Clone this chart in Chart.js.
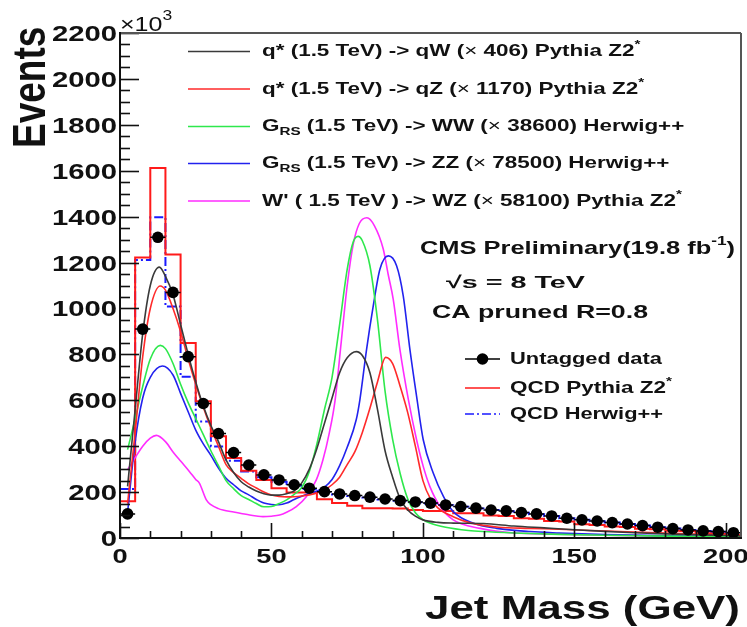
<!DOCTYPE html>
<html>
<head>
<meta charset="utf-8">
<title>Jet Mass</title>
<script src="https://cdn.jsdelivr.net/npm/chart.js@4.4.1/dist/chart.umd.min.js"></script>
<style>
  html, body { margin: 0; padding: 0; background: #fff; }
  #chart { display: block; }
</style>
</head>
<body>
<canvas id="chart" width="747" height="627"></canvas>
<script>
// 5 GeV bins
const binEdges = [0, 5, 10, 15, 20, 25, 30, 35, 40, 45, 50, 55, 60, 65, 70, 75, 80, 85, 90, 95, 100,
  105, 110, 115, 120, 125, 130, 135, 140, 145, 150, 155, 160, 165, 170, 175, 180, 185, 190, 195, 200, 205];

// events per bin, in thousands
const dataEvents = [105, 910, 1310, 1070, 790, 586, 455, 372, 318, 275, 253, 232, 217, 202, 192, 185, 178, 170,
  163, 157, 152, 144, 137, 130, 122, 118, 111, 105, 96, 86, 79, 74, 67, 61, 54, 47, 41, 35, 31, 28, 23];
const qcdPythia = [160, 1222, 1612, 1235, 850, 596, 443, 348, 293, 253, 217, 198, 198, 169, 152, 140, 130, 130,
  128, 122, 118, 118, 108, 108, 98, 96, 86, 84, 74, 72, 60, 57, 50, 48, 40, 38, 32, 30, 21, 18, 13];
const qcdHerwig = [213, 1211, 1397, 1008, 702, 508, 399, 337, 290, 265, 245, 228, 214, 200, 190, 183, 176, 168,
  162, 156, 150, 143, 136, 129, 122, 117, 110, 104, 96, 86, 79, 73, 67, 61, 54, 47, 41, 35, 31, 27, 23];

// scaled signal shapes: [jet mass, events]
const sigQW = [[2.5, 225], [5, 560], [7.5, 890], [10, 1100], [13, 1180], [15, 1140], [17.5, 1060], [20, 930],
  [22.5, 800], [25, 680], [27.5, 575], [30, 490], [32.5, 420], [35, 340], [37.5, 285], [40, 245], [42.5, 222],
  [45, 205], [47.5, 193], [50, 187], [52.5, 187], [55, 193], [57.5, 205], [60, 240], [62.5, 300], [65, 390],
  [67.5, 500], [70, 610], [72.5, 720], [75, 785], [78, 812], [80, 795], [82.5, 720], [85, 560], [87.5, 380],
  [90, 265], [92.5, 170], [95, 122], [97.5, 95], [100, 79], [105, 68], [110, 65], [120, 63], [130, 52],
  [140, 44], [150, 36], [160, 29], [170, 23], [180, 18], [190, 14], [200, 11], [205, 9]];
const sigQZ = [[2.5, 150], [5, 460], [7.5, 790], [10, 1000], [13.3, 1098], [15, 1080], [17.5, 1000], [20, 900],
  [22.5, 780], [25, 670], [27.5, 570], [30, 480], [32.5, 400], [35, 320], [37.5, 285], [40, 260], [42.5, 236],
  [45, 218], [47.5, 200], [50, 187], [52.5, 181], [55, 179], [57.5, 180], [60, 183], [62.5, 188], [65, 196],
  [67.5, 210], [70, 232], [72.5, 265], [75, 320], [77.5, 375], [80, 460], [82.5, 565], [85, 680], [87.7, 787],
  [90, 760], [92.5, 660], [95, 545], [97.5, 400], [100, 250], [102.5, 170], [105, 130], [110, 93], [115, 68],
  [120, 55], [125, 47], [135, 42], [145, 38], [155, 33], [165, 28], [175, 24], [185, 19], [195, 15], [205, 11]];
const sigWW = [[2.5, 385], [5, 520], [7.5, 660], [10, 780], [13.3, 839], [15, 825], [17.5, 760], [20, 670],
  [22.5, 590], [25, 520], [27.5, 450], [30, 380], [32.5, 315], [35, 250], [37.5, 215], [40, 185], [42.5, 168],
  [45, 150], [47.5, 136], [50, 137], [52.5, 150], [55, 166], [57.5, 190], [60, 220], [62.5, 290], [65, 410],
  [67.5, 560], [70, 700], [72.5, 930], [75, 1170], [77, 1290], [78.6, 1314], [80, 1295], [82.5, 1186],
  [85, 950], [87.5, 640], [90, 430], [92.5, 280], [95, 170], [97.5, 110], [100, 80], [102.5, 64], [107.5, 47],
  [115, 33], [120, 28], [130, 22], [145, 16], [160, 12], [180, 8], [205, 5]];
const sigZZ = [[2.5, 110], [5, 420], [7.5, 610], [10, 700], [14, 749], [17.5, 710], [20, 630], [22.5, 550],
  [25, 470], [27.5, 410], [30, 360], [32.5, 305], [35, 260], [37.5, 232], [40, 205], [42.5, 188], [45, 168],
  [47.5, 152], [50, 146], [52.5, 145], [55, 152], [57.5, 168], [60, 182], [62.5, 195], [65, 205], [67.5, 222],
  [70, 255], [72.5, 315], [75, 395], [78, 516], [79.2, 603], [81.4, 822], [83.6, 1011], [85.8, 1171],
  [88.6, 1229], [91.3, 1186], [93.5, 1055], [95.7, 822], [97.9, 618], [100.1, 428], [103.4, 283], [106.8, 180],
  [110, 115], [116.7, 64], [124.4, 42], [135.4, 28], [145, 22], [160, 15], [180, 10], [205, 6]];
const sigWZ = [[2.5, 297], [5, 350], [7.5, 400], [10, 435], [12, 447], [15, 420], [17.5, 375], [20, 335],
  [22.9, 290], [25, 255], [26.2, 239], [28.5, 166], [30, 145], [32.5, 128], [34, 122], [37.5, 113], [40, 107],
  [42.8, 100], [45, 96], [47.2, 93], [50, 95], [52.7, 100], [55, 112], [58.2, 137], [61.5, 180], [64.8, 253],
  [67, 341], [69.1, 458], [71, 600], [73, 850], [75, 1100], [77, 1280], [79, 1370], [81.5, 1395], [84, 1360],
  [86.9, 1259], [88.5, 1150], [90.2, 1040], [92.4, 822], [95.2, 603], [97.9, 428], [100.1, 312], [102.3, 224],
  [105.7, 137], [110, 79], [118.9, 42], [130, 22], [145, 17], [160, 12], [180, 8], [205, 5]];

const signalLabels = [
  'q* (1.5 TeV) -> qW (× 406) Pythia Z2^{*}',
  'q* (1.5 TeV) -> qZ (× 1170) Pythia Z2^{*}',
  'G_{RS} (1.5 TeV) -> WW (× 38600) Herwig++',
  'G_{RS} (1.5 TeV) -> ZZ (× 78500) Herwig++',
  "W' ( 1.5 TeV ) -> WZ (× 58100) Pythia Z2^{*}"
];
const signalColors = ['#3a3a3a', '#ff2a2a', '#2ee84c', '#2222ee', '#ff2cff'];

const xTickValues = [0, 50, 100, 150, 200];
const yTickValues = [0, 200, 400, 600, 800, 1000, 1200, 1400, 1600, 1800, 2000, 2200];

const FONT = "'Liberation Sans', Arial, Helvetica, sans-serif";
const SX = 1.32; // glyphs are drawn a bit wide
const INK = '#111';

const toXY = arr => arr.map(p => ({ x: p[0], y: p[1] }));
const stepPoints = vals => binEdges.map((e, i) => ({ x: e, y: vals[Math.min(i, vals.length - 1)] }));
const binCenters = dataEvents.map((v, i) => ({ x: (binEdges[i] + binEdges[i + 1]) / 2, y: v }));
// horizontal bars across each bin, broken by nulls
const xErrBars = dataEvents.flatMap((v, i) => [
  { x: binEdges[i], y: v }, { x: binEdges[i + 1], y: v }, { x: binEdges[i + 1], y: null }
]);

const datasets = [
  { label: 'Untagged data', data: binCenters, showLine: false, pointRadius: 5.8, pointBackgroundColor: '#000',
    pointBorderColor: '#000', pointBorderWidth: 0, borderColor: '#000' },
  { label: 'xerr', data: xErrBars, borderColor: '#000', borderWidth: 1.5, pointRadius: 0, spanGaps: false },
];
const signals = [sigQW, sigQZ, sigWW, sigZZ, sigWZ];
signals.forEach((s, i) => datasets.push({
  label: signalLabels[i], data: toXY(s), borderColor: signalColors[i], borderWidth: 1.6,
  pointRadius: 0, cubicInterpolationMode: 'monotone'
}));
datasets.push({ label: 'QCD Pythia Z2^{*}', data: stepPoints(qcdPythia), stepped: 'before',
  borderColor: '#ff1a1a', borderWidth: 2, pointRadius: 0 });
datasets.push({ label: 'QCD Herwig++', data: stepPoints(qcdHerwig), stepped: 'before',
  borderColor: '#1a1aff', borderWidth: 2, borderDash: [9, 3, 2, 3], pointRadius: 0 });

// split "_{..}", "^{..}" and × into separately styled pieces
function richParts(str, size, weight) {
  return str.split(/(_\{[^}]*\}|\^\{[^}]*\}|×)/).filter(s => s.length).map(p => {
    if (p.startsWith('_{')) return { t: p.slice(2, -1), fs: size * 0.68, dy: size * 0.32, w: weight };
    if (p.startsWith('^{')) return { t: p.slice(2, -1), fs: size * 0.68, dy: -size * 0.38, w: weight };
    if (p === '×') return { t: p, fs: size, dy: 0, w: 'normal' };
    return { t: p, fs: size, dy: 0, w: weight };
  });
}

// draws a label, stretched horizontally by sx (or to a given width)
function drawRich(ctx, x, y, str, size, weight, opts = {}) {
  const parts = richParts(str, size, weight);
  let natural = 0;
  for (const p of parts) {
    ctx.font = `${p.w} ${p.fs}px ${FONT}`;
    p.width = ctx.measureText(p.t).width;
    natural += p.width;
  }
  const sx = opts.width ? opts.width / natural : (opts.sx || SX);
  let x0 = x;
  if (opts.align === 'right') x0 = x - natural * sx;
  if (opts.align === 'center') x0 = x - natural * sx / 2;
  ctx.save();
  ctx.translate(x0, y);
  ctx.scale(sx, 1);
  ctx.textAlign = 'left';
  ctx.textBaseline = opts.baseline || 'middle';
  let cx = 0;
  for (const p of parts) {
    ctx.font = `${p.w} ${p.fs}px ${FONT}`;
    ctx.fillText(p.t, cx, p.dy);
    cx += p.width;
  }
  ctx.restore();
  return x0 + natural * sx;
}

function seg(ctx, x1, y1, x2, y2) {
  ctx.beginPath(); ctx.moveTo(x1, y1); ctx.lineTo(x2, y2); ctx.stroke();
}

const decorations = {
  id: 'decorations',
  afterDraw(chart) {
    const { ctx, chartArea: a, scales: { x, y } } = chart;
    ctx.save();
    // inward ticks
    ctx.strokeStyle = INK;
    ctx.lineWidth = 1.6;
    for (let v = 0; v <= 2200; v += 50) {
      const py = Math.round(y.getPixelForValue(v)) + 0.5;
      seg(ctx, a.left, py, a.left + (v % 200 === 0 ? 19 : 10), py);
    }
    for (let v = 0; v <= 205; v += 10) {
      const px = Math.round(x.getPixelForValue(v)) + 0.5;
      seg(ctx, px, a.bottom, px, a.bottom - (v % 50 === 0 ? 15 : 7));
    }
    // frame
    ctx.lineWidth = 2;
    ctx.strokeStyle = '#555';
    seg(ctx, a.left, a.top, a.right, a.top);
    seg(ctx, a.right, a.top, a.right, a.bottom);
    ctx.strokeStyle = INK;
    seg(ctx, a.left, a.top - 1, a.left, a.bottom + 1);
    seg(ctx, a.left - 1, a.bottom, a.right + 1, a.bottom);

    ctx.fillStyle = INK;
    // tick labels
    yTickValues.forEach(v => drawRich(ctx, a.left - 3, y.getPixelForValue(v) + 8, String(v), 22, 'bold',
      { align: 'right', baseline: 'alphabetic', sx: 1.33 }));
    xTickValues.forEach(v => drawRich(ctx, x.getPixelForValue(v), 563, String(v), 21, 'bold',
      { align: 'center', baseline: 'alphabetic', sx: 1.3 }));

    // axis titles
    drawRich(ctx, 740, 619, 'Jet Mass (GeV)', 33, 'bold', { align: 'right', baseline: 'alphabetic', width: 315 });
    ctx.save();
    ctx.translate(45, 148);
    ctx.rotate(-Math.PI / 2);
    ctx.scale(1, 1.25);
    ctx.font = `bold 37px ${FONT}`;
    ctx.textBaseline = 'alphabetic';
    ctx.fillText('Events', 0, 0);
    ctx.restore();

    // exponent
    const ex = drawRich(ctx, 120, 31, '×10', 20, 'normal', { baseline: 'alphabetic', sx: 1.25 });
    drawRich(ctx, ex, 20, '3', 14, 'normal', { baseline: 'alphabetic', sx: 1.25 });

    // signal legend
    const ds = chart.data.datasets;
    const rows = [51.5, 89, 126.5, 163.5, 201];
    for (let i = 0; i < 5; i++) {
      const d = ds[2 + i];
      ctx.strokeStyle = d.borderColor;
      ctx.lineWidth = 1.5;
      seg(ctx, 188, rows[i], 250, rows[i]);
      drawRich(ctx, 262, rows[i], d.label, 17, 'bold');
    }

    // experiment label
    drawRich(ctx, 420, 249, 'CMS Preliminary(19.8 fb^{-1})', 19, 'bold', { width: 315 });
    drawRich(ctx, 446, 283, '√s = 8 TeV', 17, 'bold', { width: 139 });
    drawRich(ctx, 432, 313, 'CA pruned R=0.8', 18, 'bold', { width: 216 });

    // data / background legend
    const rows2 = [359, 388, 414];
    ctx.lineWidth = 1.5;
    ctx.strokeStyle = '#000';
    seg(ctx, 465, rows2[0], 500, rows2[0]);
    ctx.beginPath(); ctx.arc(482.5, rows2[0], 5.8, 0, Math.PI * 2); ctx.fillStyle = '#000'; ctx.fill();
    ctx.strokeStyle = ds[7].borderColor;
    seg(ctx, 465, rows2[1], 500, rows2[1]);
    ctx.strokeStyle = ds[8].borderColor;
    ctx.setLineDash(ds[8].borderDash);
    seg(ctx, 465, rows2[2], 500, rows2[2]);
    ctx.setLineDash([]);
    ctx.fillStyle = INK;
    drawRich(ctx, 510, rows2[0], ds[0].label, 17, 'bold', { width: 152 });
    drawRich(ctx, 510, rows2[1], ds[7].label, 17, 'bold', { width: 162 });
    drawRich(ctx, 510, rows2[2], ds[8].label, 17, 'bold', { width: 153 });
    ctx.restore();
  }
};

new Chart(document.getElementById('chart'), {
  type: 'line',
  data: { datasets },
  options: {
    responsive: false,
    animation: false,
    devicePixelRatio: 1,
    layout: { padding: { top: 33, right: 6, left: 0, bottom: 0 } },
    plugins: { legend: { display: false }, tooltip: { enabled: false } },
    scales: {
      x: {
        type: 'linear', min: 0, max: 205,
        grid: { display: false, drawTicks: false }, border: { display: false },
        ticks: { display: false },
        afterFit: s => { s.height = 89; }
      },
      y: {
        type: 'linear', min: 0, max: 2200,
        grid: { display: false, drawTicks: false }, border: { display: false },
        ticks: { display: false },
        afterFit: s => { s.width = 120; }
      }
    }
  },
  plugins: [decorations]
});
</script>
</body>
</html>
